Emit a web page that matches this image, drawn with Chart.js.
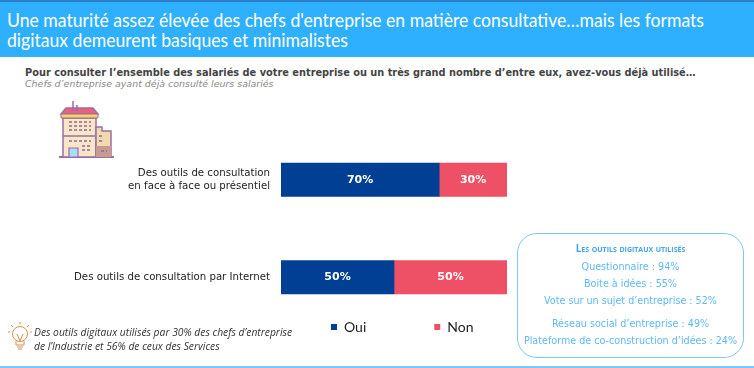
<!DOCTYPE html>
<html lang="fr"><head><meta charset="utf-8">
<script src="https://cdn.jsdelivr.net/npm/chart.js@4"></script>
<style>
html,body{margin:0;padding:0;background:#fff;overflow:hidden}
#page{position:relative;width:754px;height:368px;overflow:hidden;background:#fff}
.t{position:absolute;white-space:nowrap}
#band{position:absolute;left:0;top:0;width:754px;height:57px;background:#2eb0ff;border-top:2px solid #2a7fc4;box-sizing:border-box}
#title{left:7px;top:10px;font:20px/19.5px Lato,sans-serif;color:#fff;transform-origin:0 0;transform:scaleX(.88)}
#sub1{left:25px;top:67px;font:bold 9.8px "DejaVu Sans",sans-serif;color:#444}
#sub2{left:25px;top:78px;font:italic 9.45px "DejaVu Sans",sans-serif;color:#8a8a8a}
#box{position:absolute;left:517px;top:233px;width:227px;height:125px;border:1px solid #7cc6fb;border-radius:20px;box-sizing:border-box}
.b{color:#5cb9f5;font:9.6px "DejaVu Sans",sans-serif;width:227px;left:517px;text-align:center}
#bt{font:bold 10px "Open Sans",sans-serif;font-variant:small-caps;color:#3fa4ec;top:241px}
#note{left:34px;top:326px;font:italic 10.3px/13.5px "Open Sans",sans-serif;color:#333}
#bottom{position:absolute;left:0;top:366px;width:754px;height:2px;background:#7cc6fb}
canvas{position:absolute;left:0;top:0}
</style></head><body>
<div id="page">
<div id="band"></div>
<div id="title" class="t">Une maturité assez élevée des chefs d'entreprise en matière consultative…mais les formats<br>digitaux demeurent basiques et minimalistes</div>
<div id="sub1" class="t">Pour consulter l’ensemble des salariés de votre entreprise ou un très grand nombre d’entre eux, avez-vous déjà utilisé…</div>
<div id="sub2" class="t">Chefs d’entreprise ayant déjà consulté leurs salariés</div>
<canvas id="c" width="754" height="368"></canvas>
<svg style="position:absolute;left:58px;top:100px" width="58" height="60" viewBox="0 0 58 60">
<path d="M1 57H56" stroke="#9a6fa5" stroke-width="2"/>
<path d="M5 18H38V57H5Z" fill="#f8e6c6" stroke="#9a6fa5" stroke-width="1.5"/>
<path d="M38 27H44V31H53V57H38Z" fill="#f3d9ae" stroke="#9a6fa5" stroke-width="1.5"/>
<path d="M38 46H53V57H38Z" fill="#c79a92"/>
<path d="M3 14L8 8H35L40 14Z" fill="#ef5f7d" stroke="#9a6fa5" stroke-width="1.5"/>
<path d="M3 14H40V18H3Z" fill="#f8d25f" stroke="#9a6fa5"/>
<path d="M15 1V11M19 5V11" stroke="#9a6fa5" stroke-width="1.5"/>
<path d="M5 36H37" stroke="#9a6fa5" stroke-width="1.5"/>
<path d="M11 22H33M11 26H33M11 30H33M11 41H33M24 46H33M24 50H33M41 36H45M41 41H45M43 51H49" stroke="#8f6a9c" stroke-width="1.6" stroke-dasharray="3 2"/>
<path d="M11 48H20V57H11Z" fill="#a9dcfb" stroke="#9a6fa5" stroke-width="1.2"/>
</svg>
<svg style="position:absolute;left:7px;top:320px" width="26" height="36" viewBox="0 0 26 36" fill="none" stroke="#e08a4e" stroke-width="1">
<circle cx="13" cy="14" r="7.5"/><path d="M9 21V25H17V21M10 27H16M11 29H15M10 14L13 21L16 14M13 2V4M4 5L6 7M22 5L20 7M1 12H3M23 12H25"/>
</svg>
<div id="note" class="t">Des outils digitaux utilisés par 30% des chefs d’entreprise<br>de l’Industrie et 56% de ceux des Services</div>
<div id="box"></div>
<div id="bt" class="t b">Les outils digitaux utilisés</div>
<div class="t b" style="top:261px">Questionnaire : 94%</div>
<div class="t b" style="top:278px">Boite à idées : 55%</div>
<div class="t b" style="top:295px">Vote sur un sujet d’entreprise : 52%</div>
<div class="t b" style="top:318px">Réseau social d’entreprise : 49%</div>
<div class="t b" style="top:335px">Plateforme de co-construction d’idées : 24%</div>
<div id="bottom"></div>
</div>
<script>
const categories = [["Des outils de consultation","en face à face ou présentiel"],"Des outils de consultation par Internet"];
const seriesNames = ["Oui","Non"];
const oui = [70,50];
const non = [30,50];
const colors = ["#003f94","#ee5065"];
const legendGap = 68;

const valueLabels = {
  id:"valueLabels",
  afterDatasetsDraw(chart){
    const ctx=chart.ctx;
    ctx.save();
    ctx.font='bold 11px "DejaVu Sans",sans-serif';
    ctx.fillStyle="#fff";ctx.textAlign="center";ctx.textBaseline="middle";
    chart.data.datasets.forEach((ds,i)=>{
      chart.getDatasetMeta(i).data.forEach((el,j)=>{
        const p=el.getProps(["base","x","y"],true);
        ctx.fillText(ds.data[j]+"%",(p.base+p.x)/2,p.y);
      });
    });
    ctx.restore();
  }
};
const moveLegend = {
  id:"moveLegend",
  afterLayout(chart){
    const l=chart.legend; const w=l.width;
    l.left=331-legendGap; l.right=l.left+w; l.top=320-legendGap; l.bottom=l.top+l.height;
  }
};
new Chart(document.getElementById("c"),{
  type:"bar",
  data:{labels:categories,datasets:[
    {label:seriesNames[0],data:oui,backgroundColor:colors[0],borderWidth:0},
    {label:seriesNames[1],data:non,backgroundColor:colors[1],borderWidth:0}
  ]},
  options:{
    indexAxis:"y",responsive:false,animation:false,
    layout:{padding:{left:0,right:247,top:131,bottom:-50}},
    datasets:{bar:{barThickness:33.5}},
    plugins:{
      tooltip:{enabled:false},
      legend:{display:true,position:"bottom",align:"start",
        labels:{boxWidth:6,boxHeight:6,padding:legendGap,color:"#222",font:{family:'Lato,sans-serif',size:14}}}
    },
    scales:{
      x:{stacked:true,min:0,max:100,display:false},
      y:{stacked:true,border:{display:false},grid:{display:false,drawTicks:false},
        afterFit(s){s.width=281;},
        ticks:{padding:11,color:"#222",font:{family:'"DejaVu Sans",sans-serif',size:10.2}}}
    }
  },
  plugins:[valueLabels,moveLegend]
});
</script>
</body></html>
